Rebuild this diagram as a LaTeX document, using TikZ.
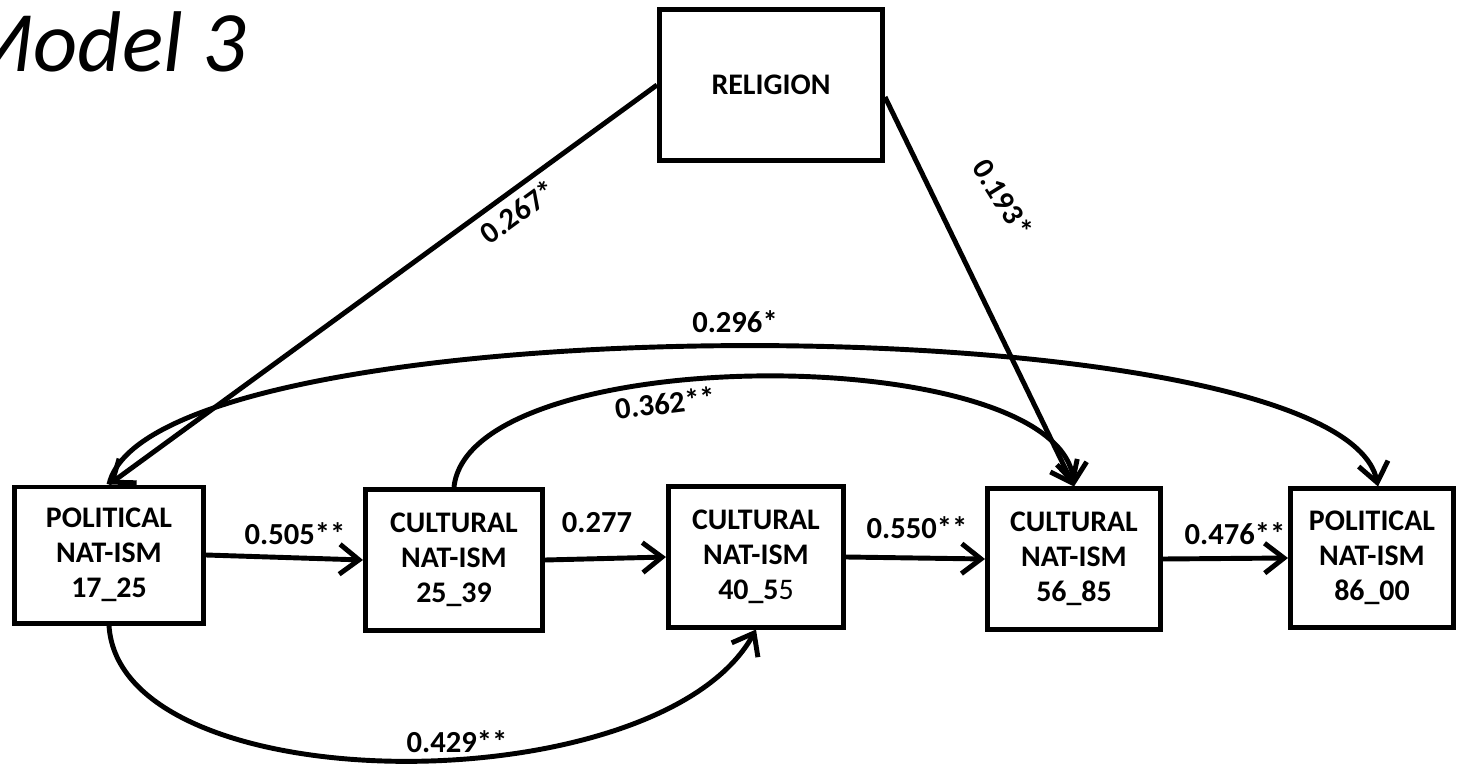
\documentclass[tikz,border=0pt]{standalone}
\usepackage{fontspec}
\setmainfont{Carlito}
\usetikzlibrary{arrows.meta}
\tikzset{
  box/.style={draw, line width=1.4pt, align=center, inner sep=0pt,
    font=\bfseries\fontsize{8.5}{10}\selectfont},
  lbl/.style={inner sep=0pt, font=\bfseries\fontsize{8.7}{10}\selectfont},
  arr/.style={-{Straight Barb[length=5.5pt,width=8.5pt]}, line width=1.4pt}
}
\begin{document}
\begin{tikzpicture}[x=0.01cm, y=-0.01cm]
  \useasboundingbox (0,0) rectangle (1460,767);
  \node[anchor=base east, inner sep=0pt, font=\itshape\fontsize{24.5}{30}\selectfont]
    (title) at (247,72) {Model 3};
  % boxes
  \node[box, minimum width=2.23cm, minimum height=1.51cm] (rel) at (771,85) {RELIGION};
  \node[box, minimum width=1.89cm, minimum height=1.36cm] (p1) at (109,555) {POLITICAL\\NAT-ISM\\17\_25};
  \node[box, minimum width=1.77cm, minimum height=1.41cm] (c2) at (454,560) {CULTURAL\\NAT-ISM\\25\_39};
  \node[box, minimum width=1.75cm, minimum height=1.40cm] (c3) at (756,557) {CULTURAL\\NAT-ISM\\40\_5{\mdseries 5}};
  \node[box, minimum width=1.73cm, minimum height=1.40cm] (c4) at (1074,559) {CULTURAL\\NAT-ISM\\56\_85};
  \node[box, minimum width=1.63cm, minimum height=1.38cm] (p5) at (1372,558) {POLITICAL\\NAT-ISM\\86\_00};
  % coefficients
  \node[lbl] (l505) at (295,534) {0.505**};
  \node[lbl] (l277) at (597,523) {0.277};
  \node[lbl] (l550) at (917,528) {0.550**};
  \node[lbl] (l476) at (1235,534) {0.476**};
  \node[lbl] (l429) at (457,742) {0.429**};
  \node[lbl, rotate=7] (l362) at (665,403) {0.362**};
  \node[lbl] (l296) at (735,322) {0.296*};
  \node[lbl, rotate=36] (l267) at (518,212) {0.267*};
  \node[lbl, rotate=-58] (l193) at (1003,198) {0.193*};
  \begin{scope}[arr]
    \draw (p1.east) -- (c2.west);
    \draw (c2.east) -- (c3.west);
    \draw (c3.east) -- (c4.west);
    \draw (c4.east) -- (p5.west);
    \draw (rel.west) -- (p1.north);
    \draw ([yshift=-0.12cm]rel.east) -- (c4.north);
    \draw (p1.north) .. controls (150,300) and (1340,300) .. ([xshift=0.06cm]p5.north);
    \draw (c2.north) .. controls (470,340) and (1060,340) .. (c4.north);
    \draw (p1.south) .. controls (120,805) and (660,805) .. (c3.south);
  \end{scope}
\end{tikzpicture}
\end{document}
